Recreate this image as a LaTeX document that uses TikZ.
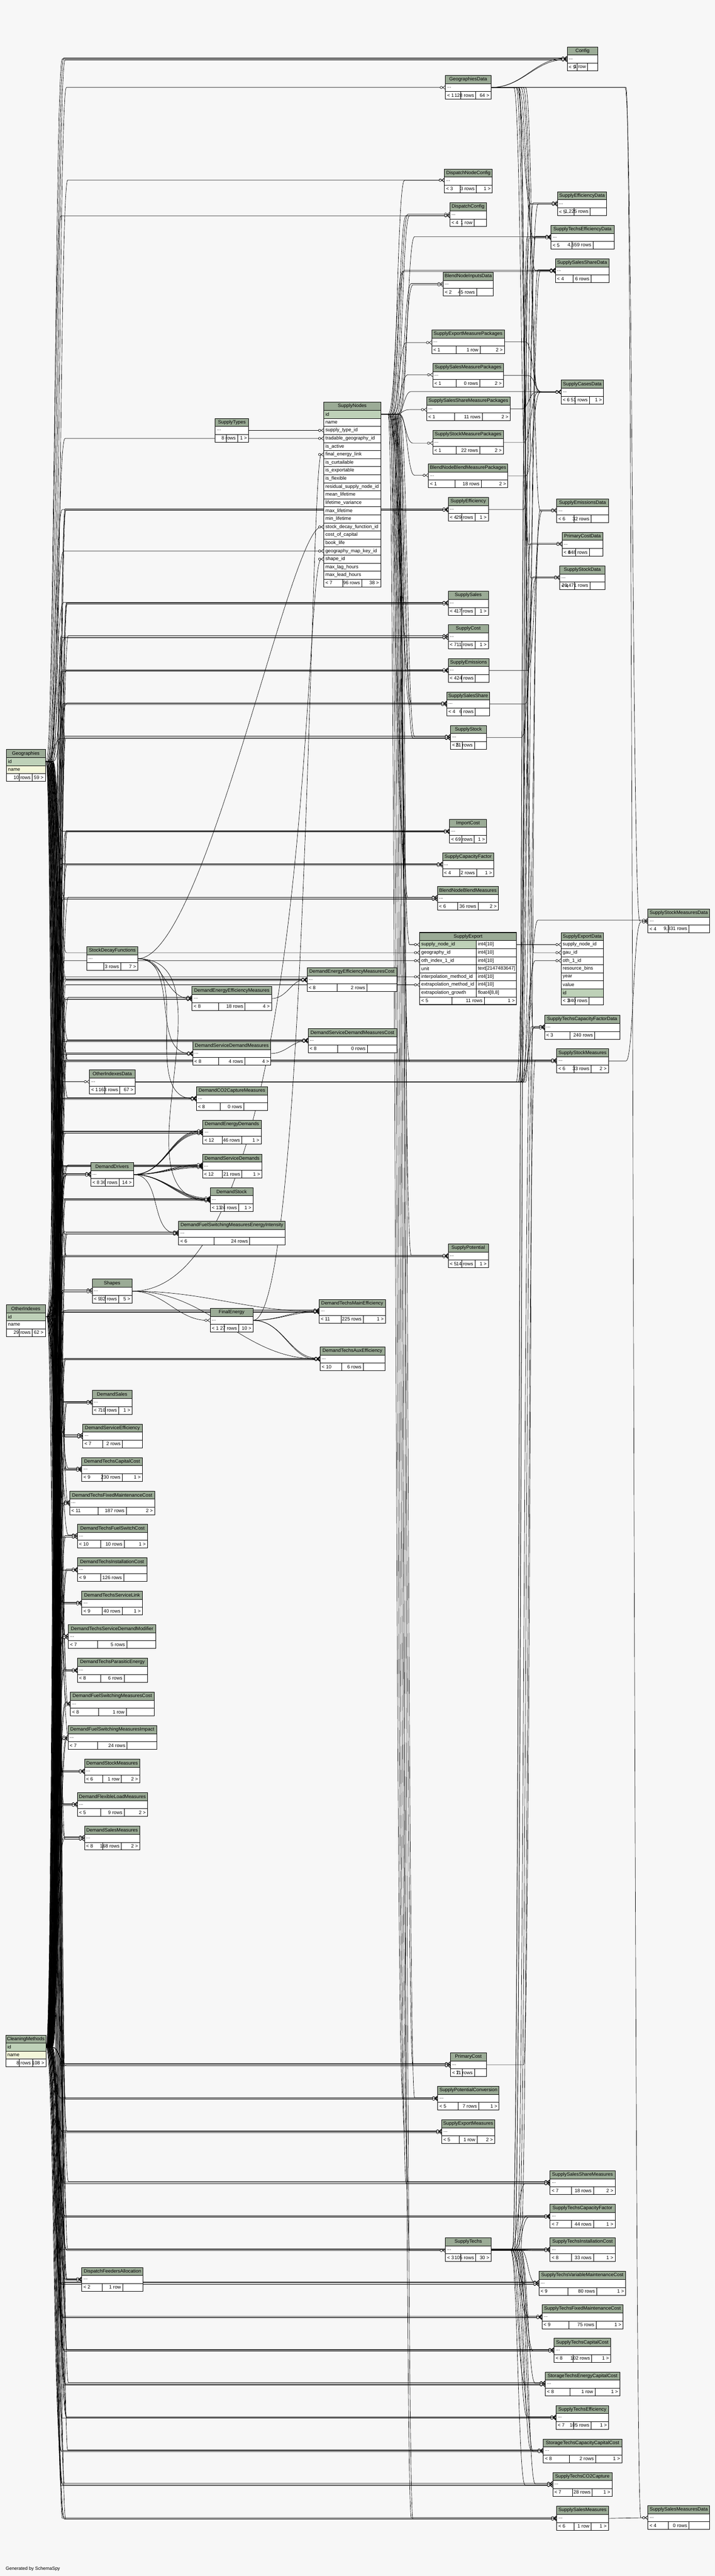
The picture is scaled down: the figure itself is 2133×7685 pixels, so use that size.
\documentclass[tikz,border=0pt]{standalone}
\usepackage{fontspec}
\setmainfont{Liberation Sans}
\usetikzlibrary{arrows.meta,calc}

\definecolor{bgc}{HTML}{F7F7F7}
\definecolor{hdrc}{HTML}{9BAB96}
\definecolor{keyc}{HTML}{BED1B8}
\definecolor{idxc}{HTML}{F4F7DA}

\pgfdeclarelayer{bg}
\pgfdeclarelayer{edges}
\pgfsetlayers{bg,edges,main}

\newcommand{\tf}{\fontsize{14.4}{16}\selectfont}
\newdimen\fwa \newdimen\fwb \newdimen\fwc

\tikzset{
  hdr/.style={draw, fill=hdrc, line width=1pt, inner sep=0pt, outer sep=0pt, minimum height=24pt, font=\tf},
  dotrow/.style={draw, fill=white, line width=1pt, inner sep=0pt, outer sep=0pt, minimum height=24pt},
  cell/.style={draw, fill=white, line width=1pt, inner sep=0pt, outer sep=0pt, minimum height=23pt},
  colrow/.style={draw, fill=white, line width=1pt, inner xsep=5pt, inner ysep=0pt, outer sep=0pt, minimum height=24pt, align=left, font=\tf},
  txt/.style={inner xsep=5pt, inner ysep=0pt, font=\tf},
  fk/.style={line width=1pt, -{Circle[length=8pt, fill=white] Straight Barb[reversed, length=7pt, width=11pt]}},
  bus/.style={to path={let \p1=(\tikztostart), \p2=(\tikztotarget) in
    -- (#1 pt-22pt,\y1) .. controls (#1 pt,\y1) and (#1 pt,\y2) .. (#1 pt+22pt,\y2) -- (\tikztotarget)}}
}

% footer row of a table: table, row above, width, < parents, rows, children >
\newcommand{\footrow}[6]{%
  \settowidth{\fwa}{\tf #4}\settowidth{\fwb}{\tf #5}\settowidth{\fwc}{\tf #6}%
  \pgfmathsetmacro\fe{max(0,(#3-\fwa-\fwb-\fwc-30)/3)}%
  \pgfmathsetmacro\fca{\fwa+10+\fe}%
  \pgfmathsetmacro\fcb{\fwb+10+\fe}%
  \pgfmathsetmacro\fcc{#3-\fca-\fcb}%
  \node[cell, minimum width=\fca pt, anchor=north west] (#1-fa) at (#2.south west) {};
  \node[cell, minimum width=\fcb pt, anchor=north west] (#1-fb) at (#1-fa.north east) {};
  \node[cell, minimum width=\fcc pt, anchor=north west] (#1-fc) at (#1-fb.north east) {};
  \node[txt, anchor=west] (#1-ta) at (#1-fa.west) {#4};
  \node[txt, anchor=east] (#1-tb) at (#1-fb.east) {#5};
  \node[txt, anchor=east] (#1-tc) at (#1-fc.east) {#6};
}

% compact table: name, x left, x right, y top, < parents, rows, children >
\newcommand{\tbl}[7]{%
  \pgfmathsetmacro\tw{#3-#2}%
  \node[hdr, minimum width=\tw pt, anchor=north west] (#1) at (#2,#4) {#1};
  \node[dotrow, minimum width=\tw pt, anchor=north west] (#1-d) at (#1.south west) {};
  \node[txt, anchor=west] (#1-dt) at (#1-d.west) {...};
  \footrow{#1}{#1-d}{\tw}{#5}{#6}{#7}%
}

\begin{document}
\begin{tikzpicture}[x=1pt, y=-1pt]
    \useasboundingbox (0,0) rectangle (2133,7685);
    \begin{pgfonlayer}{bg}
        \fill[bgc] (0,0) rectangle (2133,7685);
    \end{pgfonlayer}

    % Geographies, OtherIndexes, CleaningMethods
    \node[hdr, minimum width=116pt, anchor=north west] (Geographies) at (19,2236) {Geographies};
    \node[colrow, fill=keyc, text width=106pt, anchor=north west] (Geographies-id) at (Geographies.south west) {id};
    \node[colrow, fill=idxc, text width=106pt, anchor=north west] (Geographies-name) at (Geographies-id.south west) {name};
    \footrow{Geographies}{Geographies-name}{116}{}{10 rows}{59 >}

    \node[hdr, minimum width=116pt, anchor=north west] (OtherIndexes) at (19,3892) {OtherIndexes};
    \node[colrow, fill=keyc, text width=106pt, anchor=north west] (OtherIndexes-id) at (OtherIndexes.south west) {id};
    \node[colrow, text width=106pt, anchor=north west] (OtherIndexes-name) at (OtherIndexes-id.south west) {name};
    \footrow{OtherIndexes}{OtherIndexes-name}{116}{}{29 rows}{62 >}

    \node[hdr, minimum width=120pt, anchor=north west] (CleaningMethods) at (17,6071) {CleaningMethods};
    \node[colrow, fill=keyc, text width=110pt, anchor=north west] (CleaningMethods-id) at (CleaningMethods.south west) {id};
    \node[colrow, fill=idxc, text width=110pt, anchor=north west] (CleaningMethods-name) at (CleaningMethods-id.south west) {name};
    \footrow{CleaningMethods}{CleaningMethods-name}{120}{}{8 rows}{108 >}

    % SupplyNodes
    \node[hdr, minimum width=170pt, anchor=north west] (SupplyNodes) at (966,1200) {SupplyNodes};
    \node[colrow, fill=keyc, text width=160pt, anchor=north west] (SupplyNodes-1) at (SupplyNodes.south west) {id};
    \foreach \r [count=\i from 2] in {name, supply\_type\_id, tradable\_geography\_id, is\_active, final\_energy\_link,
        is\_curtailable, is\_exportable, is\_flexible, residual\_supply\_node\_id, mean\_lifetime, lifetime\_variance,
        max\_lifetime, min\_lifetime, stock\_decay\_function\_id, cost\_of\_capital, book\_life, geography\_map\_key\_id,
        shape\_id, max\_lag\_hours, max\_lead\_hours}
        \node[colrow, text width=160pt, anchor=north west] (SupplyNodes-\i) at (966,{1200+24*\i}) {\r};
    \footrow{SupplyNodes}{SupplyNodes-21}{170}{< 7}{96 rows}{38 >}

    % SupplyExport
    \node[hdr, minimum width=289pt, anchor=north west] (SupplyExport) at (1252,2782) {SupplyExport};
    \node[colrow, fill=keyc, text width=159pt, anchor=north west] (SupplyExport-1) at (SupplyExport.south west) {supply\_node\_id};
    \node[colrow, text width=110pt, anchor=north west] (SupplyExport-t1) at (SupplyExport-1.north east) {int4[10]};
    \foreach \r/\ty [count=\i from 2] in {geography\_id/int4[10], oth\_index\_1\_id/int4[10], unit/text[2147483647],
        interpolation\_method\_id/int4[10], extrapolation\_method\_id/int4[10], extrapolation\_growth/{float4[8,8]}} {
        \node[colrow, text width=159pt, anchor=north west] (SupplyExport-\i) at (1252,{2782+24*\i}) {\r};
        \node[colrow, text width=110pt, anchor=north west] (SupplyExport-t\i) at (SupplyExport-\i.north east) {\ty};
    }
    \footrow{SupplyExport}{SupplyExport-7}{289}{< 5}{11 rows}{1 >}
    \draw[line width=2.5pt] (SupplyExport.north west) rectangle (SupplyExport-fc.south east);

    % SupplyExportData
    \node[hdr, minimum width=126pt, anchor=north west] (SupplyExportData) at (1674,2782) {SupplyExportData};
    \foreach \r [count=\i] in {supply\_node\_id, gau\_id, oth\_1\_id, resource\_bins, year, value}
        \node[colrow, text width=116pt, anchor=north west] (SupplyExportData-\i) at (1674,{2782+24*\i}) {\r};
    \node[colrow, fill=keyc, text width=116pt, anchor=north west] (SupplyExportData-7) at (SupplyExportData-6.south west) {id};
    \footrow{SupplyExportData}{SupplyExportData-7}{126}{< 3}{340 rows}{}

    % left columns
    \tbl{SupplyTypes}{642}{742}{1248}{}{8 rows}{1 >}
    \tbl{StockDecayFunctions}{259}{411}{2824}{}{3 rows}{7 >}
    \tbl{OtherIndexesData}{267}{403}{3192}{< 1}{163 rows}{67 >}
    \tbl{DemandDrivers}{271}{398}{3468}{< 8}{36 rows}{14 >}
    \tbl{Shapes}{275}{394}{3816}{< 9}{32 rows}{5 >}
    \tbl{DemandSales}{275}{394}{4148}{< 7}{10 rows}{1 >}
    \tbl{DemandServiceEfficiency}{247}{424}{4248}{< 7}{2 rows}{}
    \tbl{DemandTechsCapitalCost}{244}{425}{4348}{< 9}{230 rows}{1 >}
    \tbl{DemandTechsFixedMaintenanceCost}{208}{461}{4448}{< 11}{187 rows}{2 >}
    \tbl{DemandTechsFuelSwitchCost}{231}{440}{4547}{< 10}{10 rows}{1 >}
    \tbl{DemandTechsInstallationCost}{231}{438}{4647}{< 9}{126 rows}{}
    \tbl{DemandTechsServiceLink}{244}{425}{4747}{< 9}{40 rows}{1 >}
    \tbl{DemandTechsServiceDemandModifier}{204}{465}{4847}{< 7}{5 rows}{}
    \tbl{DemandTechsParasiticEnergy}{231}{440}{4947}{< 8}{6 rows}{}
    \tbl{DemandFuelSwitchingMeasuresCost}{210}{460}{5048}{< 8}{1 row}{}
    \tbl{DemandFuelSwitchingMeasuresImpact}{203}{467}{5148}{< 7}{24 rows}{}
    \tbl{DemandStockMeasures}{252}{417}{5248}{< 6}{1 row}{2 >}
    \tbl{DemandFlexibleLoadMeasures}{231}{440}{5348}{< 5}{9 rows}{2 >}
    \tbl{DemandSalesMeasures}{252}{417}{5448}{< 8}{168 rows}{2 >}
    \tbl{DispatchFeedersAllocation}{244}{427}{6764}{< 2}{1 row}{}
    \tbl{DemandEnergyEfficiencyMeasures}{573}{810}{2943}{< 8}{18 rows}{4 >}
    \tbl{DemandServiceDemandMeasures}{575}{808}{3107}{< 8}{4 rows}{4 >}
    \tbl{DemandCO2CaptureMeasures}{586}{798}{3242}{< 8}{0 rows}{}
    \tbl{DemandEnergyDemands}{605}{779}{3342}{< 12}{46 rows}{1 >}
    \tbl{DemandServiceDemands}{604}{781}{3443}{< 12}{21 rows}{1 >}
    \tbl{DemandStock}{627}{755}{3543}{< 13}{24 rows}{1 >}
    \tbl{DemandFuelSwitchingMeasuresEnergyIntensity}{533}{851}{3643}{< 6}{24 rows}{}
    \tbl{FinalEnergy}{627}{755}{3903}{< 1}{27 rows}{10 >}
    \tbl{DemandEnergyEfficiencyMeasuresCost}{916}{1184}{2887}{< 8}{2 rows}{}
    \tbl{DemandServiceDemandMeasuresCost}{919}{1184}{3069}{< 8}{0 rows}{}
    \tbl{DemandTechsMainEfficiency}{952}{1150}{3876}{< 11}{225 rows}{1 >}
    \tbl{DemandTechsAuxEfficiency}{955}{1148}{4018}{< 10}{6 rows}{}

    % middle column
    \tbl{GeographiesData}{1329}{1465}{225}{< 1}{128 rows}{64 >}
    \tbl{DispatchNodeConfig}{1326}{1469}{504}{< 3}{3 rows}{1 >}
    \tbl{DispatchConfig}{1342}{1451}{605}{< 4}{1 row}{}
    \tbl{BlendNodeInputsData}{1322}{1472}{812}{< 2}{45 rows}{}
    \tbl{SupplyExportMeasurePackages}{1288}{1505}{984}{< 1}{1 row}{2 >}
    \tbl{SupplySalesMeasurePackages}{1291}{1502}{1084}{< 1}{0 rows}{2 >}
    \tbl{SupplySalesShareMeasurePackages}{1273}{1522}{1184}{< 1}{11 rows}{2 >}
    \tbl{SupplyStockMeasurePackages}{1291}{1502}{1284}{< 1}{22 rows}{2 >}
    \tbl{BlendNodeBlendMeasurePackages}{1278}{1515}{1384}{< 1}{18 rows}{2 >}
    \tbl{SupplyEfficiency}{1337}{1457}{1484}{< 4}{29 rows}{1 >}
    \tbl{SupplySales}{1337}{1457}{1764}{< 4}{17 rows}{1 >}
    \tbl{SupplyCost}{1337}{1457}{1864}{< 7}{11 rows}{1 >}
    \tbl{SupplyEmissions}{1337}{1459}{1964}{< 4}{24 rows}{}
    \tbl{SupplySalesShare}{1333}{1461}{2064}{< 4}{6 rows}{}
    \tbl{SupplyStock}{1344}{1451}{2164}{< 5}{21 rows}{}
    \tbl{ImportCost}{1341}{1452}{2444}{< 6}{9 rows}{1 >}
    \tbl{SupplyCapacityFactor}{1320}{1473}{2544}{< 4}{2 rows}{1 >}
    \tbl{BlendNodeBlendMeasures}{1305}{1487}{2644}{< 6}{36 rows}{2 >}
    \tbl{SupplyPotential}{1337}{1457}{3711}{< 5}{14 rows}{1 >}
    \tbl{PrimaryCost}{1344}{1451}{6124}{< 7}{11 rows}{}
    \tbl{SupplyPotentialConversion}{1306}{1489}{6224}{< 5}{7 rows}{1 >}
    \tbl{SupplyExportMeasures}{1318}{1476}{6324}{< 5}{1 row}{2 >}
    \tbl{SupplyTechs}{1329}{1465}{6676}{< 3}{105 rows}{30 >}

    % right columns
    \tbl{Config}{1692}{1784}{140}{< 9}{1 row}{}
    \tbl{SupplyEfficiencyData}{1663}{1810}{572}{< 5}{1,225 rows}{}
    \tbl{SupplyTechsEfficiencyData}{1644}{1832}{672}{< 5}{4,559 rows}{}
    \tbl{SupplySalesShareData}{1657}{1817}{772}{< 4}{6 rows}{}
    \tbl{SupplyCasesData}{1674}{1801}{1134}{< 6}{51 rows}{1 >}
    \tbl{SupplyEmissionsData}{1661}{1815}{1488}{< 6}{32 rows}{}
    \tbl{PrimaryCostData}{1677}{1799}{1588}{< 4}{848 rows}{}
    \tbl{SupplyStockData}{1670}{1805}{1688}{< 4}{26,471 rows}{}
    \tbl{SupplyTechsCapacityFactorData}{1625}{1849}{3029}{< 3}{240 rows}{}
    \tbl{SupplyStockMeasures}{1661}{1815}{3129}{< 6}{33 rows}{2 >}
    \tbl{SupplySalesShareMeasures}{1641}{1835}{6476}{< 7}{18 rows}{2 >}
    \tbl{SupplyTechsCapacityFactor}{1641}{1835}{6576}{< 7}{44 rows}{1 >}
    \tbl{SupplyTechsInstallationCost}{1641}{1835}{6676}{< 8}{33 rows}{1 >}
    \tbl{SupplyTechsVariableMaintenanceCost}{1608}{1867}{6776}{< 9}{80 rows}{1 >}
    \tbl{SupplyTechsFixedMaintenanceCost}{1617}{1859}{6876}{< 9}{75 rows}{1 >}
    \tbl{SupplyTechsCapitalCost}{1653}{1822}{6976}{< 8}{102 rows}{1 >}
    \tbl{StorageTechsEnergyCapitalCost}{1627}{1849}{7076}{< 8}{1 row}{1 >}
    \tbl{SupplyTechsEfficiency}{1659}{1816}{7176}{< 7}{105 rows}{1 >}
    \tbl{StorageTechsCapacityCapitalCost}{1621}{1855}{7276}{< 8}{2 rows}{1 >}
    \tbl{SupplyTechsCO2Capture}{1649}{1826}{7376}{< 7}{28 rows}{1 >}
    \tbl{SupplySalesMeasures}{1661}{1815}{7477}{< 6}{1 row}{1 >}
    \tbl{SupplyStockMeasuresData}{1933}{2117}{2712}{< 4}{9,331 rows}{}
    \tbl{SupplySalesMeasuresData}{1933}{2117}{7475}{< 4}{0 rows}{}

    \node[anchor=west, inner sep=0pt, font=\fontsize{13.8}{15}\selectfont] (credit) at (17,7664) {Generated by SchemaSpy};

    \begin{pgfonlayer}{edges}
    % Geographies
    \foreach \tb [count=\i] in {Config, Config, Config, GeographiesData, DispatchNodeConfig, DispatchConfig,
        SupplyEfficiency, SupplySales, SupplyCost, SupplyEmissions, SupplySalesShare, SupplyStock, ImportCost,
        SupplyCapacityFactor, BlendNodeBlendMeasures, SupplyPotential, SupplyStockMeasures, PrimaryCost,
        SupplyPotentialConversion, SupplyExportMeasures, SupplySalesShareMeasures, SupplyTechsCapacityFactor,
        SupplyTechsInstallationCost, SupplyTechsVariableMaintenanceCost, SupplyTechsFixedMaintenanceCost,
        SupplyTechsCapitalCost, StorageTechsEnergyCapitalCost, SupplyTechsEfficiency, StorageTechsCapacityCapitalCost,
        SupplyTechsCO2Capture, SupplySalesMeasures, DemandDrivers, DemandEnergyEfficiencyMeasures,
        DemandServiceDemandMeasures, DemandCO2CaptureMeasures, DemandEnergyDemands, DemandServiceDemands, DemandStock,
        DemandFuelSwitchingMeasuresEnergyIntensity, DemandEnergyEfficiencyMeasuresCost, DemandServiceDemandMeasuresCost,
        DemandTechsMainEfficiency, DemandTechsAuxEfficiency, DemandSales, DemandServiceEfficiency, DemandTechsCapitalCost,
        DemandTechsFixedMaintenanceCost, DemandTechsFuelSwitchCost, DemandTechsInstallationCost, DemandTechsServiceLink,
        DemandTechsServiceDemandModifier, DemandTechsParasiticEnergy, DemandFuelSwitchingMeasuresCost,
        DemandFuelSwitchingMeasuresImpact, DemandStockMeasures, DemandFlexibleLoadMeasures, DemandSalesMeasures,
        DispatchFeedersAllocation} {
        \pgfmathsetmacro\bx{160+mod(\i,6)*4}
        \pgfmathsetmacro\dy{mod(\i,3)*3-3}
        \draw[fk] (Geographies-id.east) to[bus=\bx] ([yshift=\dy pt]\tb-d.west);
    }
    \draw[fk] (Geographies-id.east) to[bus=172] (SupplyNodes-4.west);
    \draw[fk] (Geographies-id.east) to[bus=168] (SupplyNodes-18.west);
    \draw[fk] (Geographies-id.east) to[bus=176] (SupplyExport-2.west);

    % OtherIndexes
    \foreach \tb [count=\i] in {OtherIndexesData, Shapes, DemandDrivers, DemandDrivers, DemandEnergyEfficiencyMeasures,
        DemandServiceDemandMeasures, DemandCO2CaptureMeasures, DemandEnergyDemands, DemandEnergyDemands,
        DemandServiceDemands, DemandServiceDemands, DemandStock, DemandStock, DemandFuelSwitchingMeasuresEnergyIntensity,
        DemandEnergyEfficiencyMeasuresCost, DemandServiceDemandMeasuresCost, DemandTechsMainEfficiency,
        DemandTechsAuxEfficiency, DemandSales, DemandServiceEfficiency, DemandTechsCapitalCost,
        DemandTechsFixedMaintenanceCost, DemandTechsFuelSwitchCost, DemandTechsInstallationCost, DemandTechsServiceLink,
        DemandTechsServiceDemandModifier, DemandTechsParasiticEnergy, DemandFuelSwitchingMeasuresCost,
        DemandFuelSwitchingMeasuresImpact, DemandStockMeasures, DemandFlexibleLoadMeasures, DemandSalesMeasures,
        SupplyEfficiency, SupplySales, SupplyCost, SupplyEmissions, SupplySalesShare, SupplyStock, ImportCost,
        SupplyCapacityFactor, BlendNodeBlendMeasures, SupplyPotential, SupplyStockMeasures, PrimaryCost,
        SupplyPotentialConversion, SupplyExportMeasures, SupplySalesShareMeasures, SupplyTechsCapacityFactor,
        SupplyTechsInstallationCost, SupplyTechsVariableMaintenanceCost, SupplyTechsFixedMaintenanceCost,
        SupplyTechsCapitalCost, StorageTechsEnergyCapitalCost, SupplyTechsEfficiency, StorageTechsCapacityCapitalCost,
        SupplyTechsCO2Capture, SupplySalesMeasures, DispatchFeedersAllocation, DemandTechsCapitalCost,
        DemandTechsFixedMaintenanceCost} {
        \pgfmathsetmacro\bx{162+mod(\i,6)*4}
        \pgfmathsetmacro\dy{mod(\i,3)*3-2}
        \draw[fk] (OtherIndexes-id.east) to[bus=\bx] ([yshift=\dy pt]\tb-d.west);
    }
    \draw[fk] (OtherIndexes-id.east) to[bus=170] (SupplyExport-3.west);

    % CleaningMethods
    \foreach \tb [count=\i] in {Shapes, DemandDrivers, DemandEnergyEfficiencyMeasures, DemandServiceDemandMeasures,
        DemandCO2CaptureMeasures, DemandEnergyDemands, DemandServiceDemands, DemandStock,
        DemandFuelSwitchingMeasuresEnergyIntensity, DemandEnergyEfficiencyMeasuresCost, DemandServiceDemandMeasuresCost,
        DemandTechsMainEfficiency, DemandTechsAuxEfficiency, DemandSales, DemandServiceEfficiency, DemandTechsCapitalCost,
        DemandTechsFixedMaintenanceCost, DemandTechsFuelSwitchCost, DemandTechsInstallationCost, DemandTechsServiceLink,
        DemandTechsServiceDemandModifier, DemandTechsParasiticEnergy, DemandFuelSwitchingMeasuresCost,
        DemandFuelSwitchingMeasuresImpact, DemandStockMeasures, DemandFlexibleLoadMeasures, DemandSalesMeasures,
        SupplyEfficiency, SupplySales, SupplyCost, SupplyEmissions, SupplySalesShare, SupplyStock, ImportCost,
        SupplyCapacityFactor, BlendNodeBlendMeasures, SupplyPotential, SupplyStockMeasures, PrimaryCost,
        SupplyPotentialConversion, SupplyExportMeasures, SupplySalesShareMeasures, SupplyTechsCapacityFactor,
        SupplyTechsInstallationCost, SupplyTechsVariableMaintenanceCost, SupplyTechsFixedMaintenanceCost,
        SupplyTechsCapitalCost, StorageTechsEnergyCapitalCost, SupplyTechsEfficiency, StorageTechsCapacityCapitalCost,
        SupplyTechsCO2Capture, SupplySalesMeasures, DispatchFeedersAllocation} {
        \pgfmathsetmacro\bx{160+mod(\i,5)*4}
        \draw[fk] (CleaningMethods-id.east) to[bus=\bx] ([yshift=2pt]\tb-d.west);
        \draw[fk] (CleaningMethods-id.east) to[bus=\bx+2] ([yshift=-2pt]\tb-d.west);
    }
    \draw[fk] (CleaningMethods-id.east) to[bus=166] (SupplyExport-5.west);
    \draw[fk] (CleaningMethods-id.east) to[bus=174] (SupplyExport-6.west);

    % SupplyNodes
    \foreach \tb [count=\i] in {DispatchNodeConfig, DispatchConfig, DispatchConfig, DispatchConfig, BlendNodeInputsData,
        BlendNodeInputsData, SupplyTechsEfficiencyData, SupplySalesShareData, SupplySalesShareData,
        SupplyExportMeasurePackages, SupplySalesMeasurePackages, SupplySalesShareMeasurePackages, SupplyCasesData,
        SupplyStockMeasurePackages, BlendNodeBlendMeasurePackages, SupplyEfficiency, SupplySales, SupplyCost,
        SupplyEmissions, SupplySalesShare, SupplySalesShare, SupplyStock, SupplyStock, ImportCost, SupplyCapacityFactor,
        BlendNodeBlendMeasures, BlendNodeBlendMeasures, SupplyStockMeasures, SupplyPotential, PrimaryCost,
        SupplyPotentialConversion, SupplyPotentialConversion, SupplyExportMeasures, SupplySalesShareMeasures,
        SupplySalesShareMeasures, SupplyTechs, SupplySalesMeasures, SupplySalesMeasures} {
        \pgfmathsetmacro\bx{1180+mod(\i,8)*5}
        \pgfmathsetmacro\dy{mod(\i,2)*4-2}
        \draw[fk] (SupplyNodes-1.east) to[bus=\bx] ([yshift=\dy pt]\tb-d.west);
    }
    \draw[fk] (SupplyNodes-1.east) to[bus=1200] (SupplyExport-1.west);
    \draw[fk] (SupplyTypes-d.east) to[out=0,in=180] (SupplyNodes-3.west);
    \draw[fk] (FinalEnergy-d.east) .. controls +(160,0) and +(-40,0) .. (SupplyNodes-6.west);
    \draw[fk] (StockDecayFunctions-d.east) .. controls +(200,0) and +(-100,0) .. (SupplyNodes-15.west);
    \draw[fk] (Shapes-d.east) .. controls +(540,0) and +(-60,0) .. (SupplyNodes-19.west);

    % GeographiesData and OtherIndexesData
    \foreach \tb [count=\i] in {SupplyEfficiencyData, SupplyTechsEfficiencyData, SupplySalesShareData, SupplyCasesData,
        SupplyEmissionsData, PrimaryCostData, SupplyStockData, SupplyTechsCapacityFactorData} {
        \pgfmathsetmacro\bx{1555+mod(\i,6)*7}
        \draw[fk] (GeographiesData-d.east) to[bus=\bx] (\tb-d.west);
    }
    \draw[fk] (GeographiesData-d.east) to[bus=1570] (SupplyExportData-2.west);
    \draw[fk] (GeographiesData-d.east) to[bus=1887] (SupplyStockMeasuresData-d.west);
    \draw[fk] (GeographiesData-d.east) to[bus=1890] (SupplySalesMeasuresData-d.west);
    \draw[fk] (GeographiesData-d.east) to[out=0,in=180] ([yshift=2pt]Config-d.west);
    \draw[fk] (GeographiesData-d.east) to[out=0,in=180] ([yshift=-2pt]Config-d.west);
    \foreach \tb [count=\i] in {SupplyEfficiencyData, SupplyTechsEfficiencyData, SupplySalesShareData,
        SupplyEmissionsData, PrimaryCostData, SupplyStockData, SupplyTechsCapacityFactorData, SupplyStockMeasuresData} {
        \pgfmathsetmacro\bx{1562+mod(\i,5)*7}
        \draw[fk] (OtherIndexesData-d.east) to[bus=\bx] ([yshift=3pt]\tb-d.west);
    }
    \draw[fk] (OtherIndexesData-d.east) to[bus=1575] (SupplyExportData-3.west);

    % SupplyTechs
    \foreach \tb [count=\i] in {SupplyTechsCapacityFactor, SupplyTechsCapacityFactor, SupplyTechsInstallationCost,
        SupplyTechsInstallationCost, SupplyTechsVariableMaintenanceCost, SupplyTechsVariableMaintenanceCost,
        SupplyTechsFixedMaintenanceCost, SupplyTechsFixedMaintenanceCost, SupplyTechsCapitalCost, SupplyTechsCapitalCost,
        StorageTechsEnergyCapitalCost, StorageTechsEnergyCapitalCost, SupplyTechsEfficiency, SupplyTechsEfficiency,
        StorageTechsCapacityCapitalCost, StorageTechsCapacityCapitalCost, SupplyTechsCO2Capture, SupplyTechsCO2Capture,
        SupplyTechsEfficiencyData, SupplyTechsEfficiencyData, SupplyTechsCapacityFactorData,
        SupplyTechsCapacityFactorData, SupplyStockMeasures, SupplySalesShareMeasures, SupplySalesShareData,
        SupplyEfficiencyData} {
        \pgfmathsetmacro\bx{1545+mod(\i,6)*6}
        \pgfmathsetmacro\dy{mod(\i,2)*4-2}
        \draw[fk] (SupplyTechs-d.east) to[bus=\bx] ([yshift=\dy pt]\tb-d.west);
    }

    % parents of data tables
    \foreach \pa/\ch [count=\i] in {SupplyEfficiency/SupplyEfficiencyData, SupplySalesShare/SupplySalesShareData,
        SupplyEmissions/SupplyEmissionsData, SupplyStock/SupplyStockData, PrimaryCost/PrimaryCostData,
        SupplyExportMeasurePackages/SupplyCasesData, SupplySalesMeasurePackages/SupplyCasesData,
        SupplySalesShareMeasurePackages/SupplyCasesData, SupplyStockMeasurePackages/SupplyCasesData,
        BlendNodeBlendMeasurePackages/SupplyCasesData} {
        \pgfmathsetmacro\bx{1578+mod(\i,4)*6}
        \draw[fk] (\pa-d.east) to[bus=\bx] (\ch-d.west);
    }
    \draw[fk] (SupplyStockMeasures-d.east) to[bus=1890] ([yshift=-3pt]SupplyStockMeasuresData-d.west);
    \draw[fk] (SupplySalesMeasures-d.east) -- (SupplySalesMeasuresData-d.west);
    \draw[fk] (SupplyExport-t1.east) -- (SupplyExportData-1.west);

    % demand side
    \foreach \tb/\s in {DemandEnergyDemands/-4, DemandEnergyDemands/-1, DemandEnergyDemands/2, DemandEnergyDemands/5,
        DemandServiceDemands/-4, DemandServiceDemands/-1, DemandServiceDemands/2, DemandServiceDemands/5,
        DemandStock/-4, DemandStock/-1, DemandStock/2, DemandStock/5, DemandFuelSwitchingMeasuresEnergyIntensity/0}
        \draw[fk] (DemandDrivers-d.east) to[out=0,in=180] ([yshift=\s pt]\tb-d.west);
    \foreach \tb/\s in {DemandTechsMainEfficiency/2, DemandTechsMainEfficiency/-2, DemandTechsAuxEfficiency/2,
        DemandTechsAuxEfficiency/-2}
        \draw[fk] (FinalEnergy-d.east) to[out=0,in=180] ([yshift=\s pt]\tb-d.west);
    \foreach \tb in {FinalEnergy, DemandTechsMainEfficiency, DemandTechsAuxEfficiency}
        \draw[fk] (Shapes-d.east) to[out=0,in=180] (\tb-d.west);
    \foreach \tb in {DemandEnergyEfficiencyMeasures, DemandServiceDemandMeasures, DemandCO2CaptureMeasures, DemandStock}
        \draw[fk] (StockDecayFunctions-d.east) to[out=0,in=180] (\tb-d.west);
    \draw[fk] (DemandEnergyEfficiencyMeasures-d.east) to[out=0,in=180] (DemandEnergyEfficiencyMeasuresCost-d.west);
    \draw[fk] (DemandServiceDemandMeasures-d.east) to[out=0,in=180] (DemandServiceDemandMeasuresCost-d.west);
    \end{pgfonlayer}
\end{tikzpicture}
\end{document}
